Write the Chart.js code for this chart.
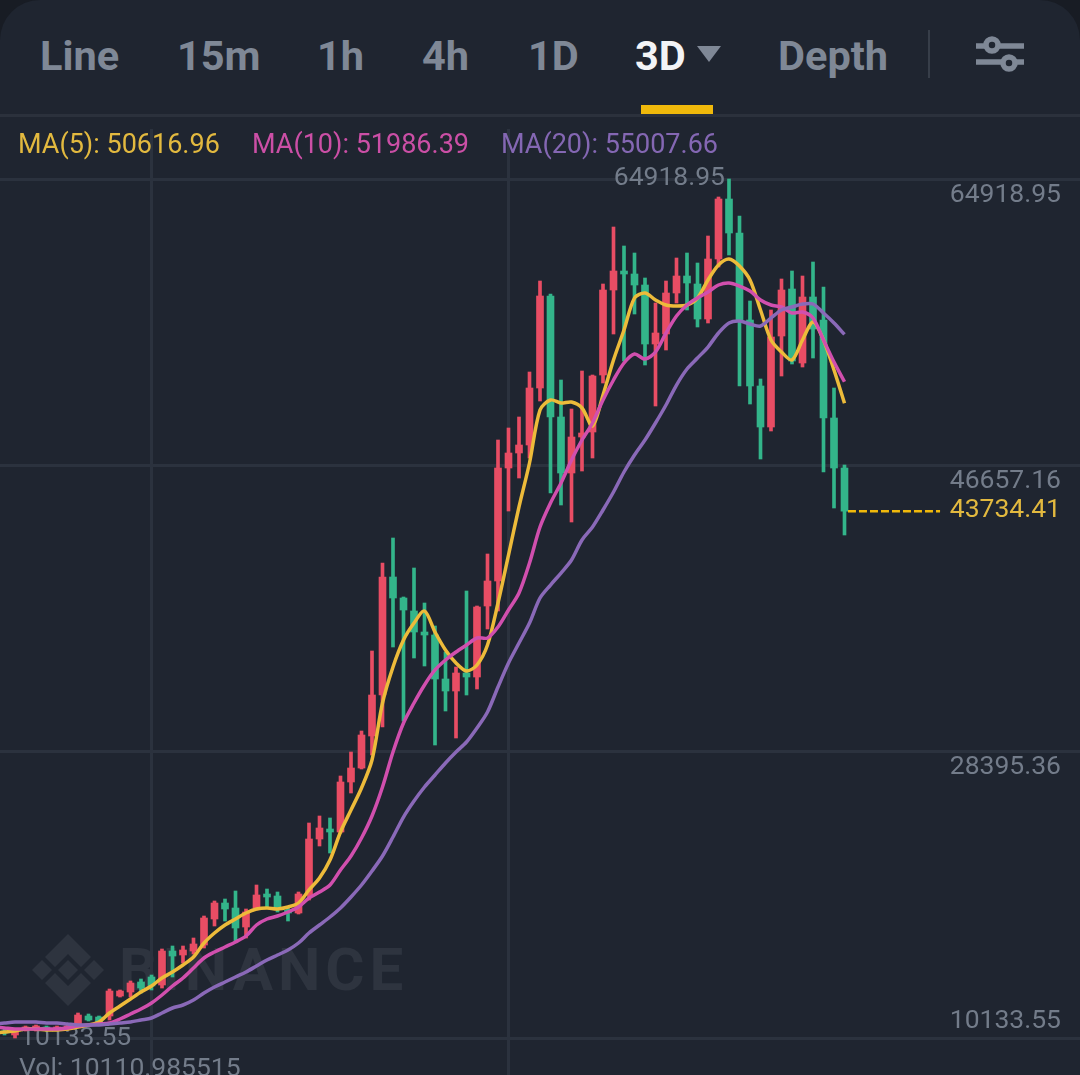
<!DOCTYPE html>
<html><head><meta charset="utf-8">
<script src="https://cdn.jsdelivr.net/npm/chart.js@4"></script>
<style>
html,body{margin:0;padding:0;background:#181c24;width:1080px;height:1075px;overflow:hidden;font-family:Roboto,sans-serif}
#app{position:absolute;left:0;top:0;width:1080px;height:1075px;background:#1f2530;border-radius:40px 40px 0 0;overflow:hidden}
.tab{position:absolute;top:31px;font-weight:700;font-size:41.5px;line-height:50px;color:#7f8896;white-space:nowrap}
.tab.on{color:#f3f4f6}
#rule{position:absolute;left:0;top:114px;width:1080px;height:3px;background:#2b313c}
#ul{position:absolute;left:641px;top:105px;width:72px;height:9px;background:#f0b90b}
#div{position:absolute;left:928px;top:30px;width:2px;height:48px;background:#373e49}
.ma{position:absolute;top:126px;font-size:27px;line-height:36px;white-space:nowrap}
#wm{position:absolute;left:119px;top:936px;font-size:60px;line-height:68px;font-weight:700;color:#2e343f;letter-spacing:5px;white-space:nowrap}
svg{position:absolute}
#wrap{position:absolute;left:0;top:129px;width:1080px;height:946px}
</style></head><body>
<div id="app">
<svg style="left:30px;top:932px" width="76" height="76" viewBox="0 0 76 76"><g fill="#2e343f">
<polygon points="38,2 61,25 51,35 38,22 25,35 15,25"/><polygon points="38,74 61,51 51,41 38,54 25,41 15,51"/>
<polygon points="38,28 48,38 38,48 28,38"/><polygon points="12,28 22,38 12,48 2,38"/><polygon points="64,28 74,38 64,48 54,38"/></g></svg>
<div id="wm">BINANCE</div>
<div class="tab" style="left:40px">Line</div>
<div class="tab" style="left:177px">15m</div>
<div class="tab" style="left:317px">1h</div>
<div class="tab" style="left:422px">4h</div>
<div class="tab" style="left:528px">1D</div>
<div class="tab on" style="left:635px">3D</div>
<svg style="left:696px;top:44px" width="26" height="20"><polygon points="1,2 25,2 13,18" fill="#7f8896"/></svg>
<div class="tab" style="left:778px">Depth</div>
<div id="div"></div>
<svg style="left:975px;top:36px" width="50" height="36" viewBox="0 0 50 36"><g stroke="#7f8896" stroke-width="5.5" fill="none"><line x1="1" y1="10" x2="49" y2="10"/><line x1="1" y1="26" x2="49" y2="26"/><circle cx="17" cy="9" r="6" fill="#1f2530"/><circle cx="34" cy="27" r="6" fill="#1f2530"/></g></svg>
<div id="ul"></div><div id="rule"></div>
<div id="wrap"><canvas id="c"></canvas></div>
<div class="ma" style="left:18px;color:#e2b93f">MA(5): 50616.96</div>
<div class="ma" style="left:252px;color:#cb4fa6">MA(10): 51986.39</div>
<div class="ma" style="left:501px;color:#8467b3">MA(20): 55007.66</div>
</div>
<script>
const opens=[10580,10580,10325,10644,10707,10835,10707,10771,10899,11537,11473,11537,12812,13067,13705,14024,13514,15682,15427,15682,16065,17723,18743,18425,17213,18425,19317,19190,18297,18106,19254,22825,23463,23272,26461,27353,29394,32009,39535,38196,37367,36027,35836,33030,32264,33412,33157,37686,39280,46487,47444,47954,51589,57457,49740,46168,48464,48783,52418,57839,59051,58860,58158,54395,55033,57648,58732,58222,55990,59816,63643,61475,55926,51717,49102,54906,57903,53184,57393,55926,49676,46487];
const highs=[10771,10771,10644,10899,10963,10899,10899,10963,11728,11664,11537,13259,13195,13769,13896,14151,15810,16001,16001,16511,17914,18871,18998,19509,18361,19891,19636,19445,18425,19445,23846,24292,24165,26843,28374,29713,34816,40428,42022,38260,40109,37877,36410,34752,33795,38642,37686,41002,48273,49038,49740,52610,58413,57584,52099,50250,52673,52418,58222,61857,60646,60199,58605,57010,58413,59880,60199,59561,61283,63771,64918.95,62559,57138,52163,56564,58541,59051,58732,59625,58031,51589,46678];
const lows=[10452,10325,10133.55,10580,10580,10580,10644,10644,10835,11218,10963,11281,12748,12748,13003,13195,13322,14024,14917,15491,15873,17277,17595,16256,16511,18297,18488,18170,17595,18042,18935,22379,21932,23208,25759,27290,28183,29968,35071,30351,34369,33859,28820,30989,29267,32009,32392,36219,37367,43744,45849,47125,50760,44892,44127,43043,46296,47125,51908,55033,53311,56309,53056,50441,54013,57010,56564,55480,55735,59306,60072,51717,50569,47061,48847,52354,53120,52928,53502,46232,43936,42214];
const closes=[10580,10452,10580,10835,10899,10707,10835,10899,11600,11281,11090,13131,13131,13641,13322,13450,15682,15363,15746,16129,17787,18743,18361,17149,18170,19254,19126,18488,18106,19317,22825,23527,23272,26461,27353,29458,32009,39535,38196,37430,36027,35836,33030,32264,33412,33157,37622,39280,46487,47444,47954,51589,57457,49740,46168,48464,48719,52354,57839,59051,58860,58158,54395,55097,57648,58732,58286,55990,59816,63643,61475,55926,51717,49102,54842,57839,53311,57393,55352,49676,46487,43734.41];
const ma5=[10452,10516,10580,10707,10707,10644,10644,10707,10835,10963,11154,11728,12174,12621,13067,13450,13960,14343,14789,15299,16192,16830,17340,17723,18106,18361,18425,18361,18488,18743,19573,20338,21486,23272,24675,26078,27864,31499,33795,35517,36601,37367,36027,34879,34050,33540,33923,35198,37877,40938,44000,46806,50186,50824,50632,50696,50314,49166,51143,53375,55288,57329,57648,57202,56883,56819,56883,57329,58477,59434,59816,59370,58477,56564,54650,53885,53375,54650,55798,54650,52737,50616.96];
const ma10=[10835,10771,10707,10707,10707,10707,10707,10771,10899,10963,11026,11090,11345,11664,11983,12366,12876,13450,13960,14598,15236,15618,15937,16256,16639,17340,17723,17914,18170,18488,19062,19445,19891,20848,21741,22889,24292,26142,28374,30224,31499,32647,33604,34242,34752,35198,35645,35645,36346,37430,38515,40428,42724,44255,45530,46997,48273,49357,50824,52099,53184,53758,53439,53885,55097,56181,56883,57329,57712,58158,58286,58094,57776,57202,56883,56755,56372,56436,56054,54650,53247,51986.39];
const ma20=[11026,11090,11154,11154,11154,11090,11090,11026,10963,10963,10963,11026,11090,11154,11281,11409,11728,12047,12238,12557,13003,13386,13705,14024,14343,14725,15108,15427,15746,16192,16830,17340,17851,18425,19126,19891,20784,21741,22953,24228,25249,26142,26907,27672,28374,29012,29905,30925,32520,34050,35326,36601,38196,39025,39790,40619,41895,42724,43808,44956,46232,47316,48273,49357,50505,51780,52801,53502,54204,55097,55735,55862,55671,55543,56054,56564,56755,56946,56946,56372,55735,55007.66];
const candleIndex=opens.map((_,i)=>i-1);
const gridValues=[64918.95,46657.16,28395.36,10133.55];
const lastPrice=43734.41;
const lastPriceSpan=[80.33,89.1];
const verticalGridAt=[14,48];
const highLabel='64918.95', lowLabel='10133.55', volLabel='Vol: 10110.985515';

const UP='#e84d64', DOWN='#33b58a', GRID='#2b323e';
const pos=opens.map((_,i)=>i);
const colors=pos.map(i=>closes[i]>opens[i]?UP:DOWN);
const line=(label,arr,color)=>({type:'line',label,data:pos.map(i=>({x:candleIndex[i],y:arr[i]})),borderColor:color,borderWidth:3.5,pointRadius:0,tension:0.3,fill:false});
const setTicks=(vals)=>(ax)=>{ax.ticks=vals.map(v=>({value:v}));};
const noWidth=(ax)=>{ax.width=0;ax.paddingTop=0;ax.paddingBottom=0;};
const sideAxis=(vals,offset,color,pad)=>({type:'linear',position:'right',min:7773.9,max:68107.85,afterBuildTicks:setTicks(vals),afterFit:noWidth,
  grid:{display:false},border:{display:false},
  ticks:{mirror:true,padding:pad,labelOffset:offset,color,font:{family:'Roboto',size:26.5},autoSkip:false,maxRotation:0,callback:v=>Number(v).toFixed(2)}});
const marks={id:'marks',beforeDatasetsDraw(ch){
  const c=ch.ctx,x=ch.scales.x,y=ch.scales.y;
  c.save();c.fillStyle='#737c8a';c.font='26.5px Roboto';c.textBaseline='middle';
  const hi=highs.indexOf(Math.max(...highs)),lo=lows.indexOf(Math.min(...lows));
  c.textAlign='right';c.fillText(highLabel,x.getPixelForValue(candleIndex[hi])-4,y.getPixelForValue(highs[hi])-1);
  c.textAlign='left';c.fillText(lowLabel,x.getPixelForValue(candleIndex[lo])+5,y.getPixelForValue(lows[lo]));
  c.fillText(volLabel,x.getPixelForValue(candleIndex[lo])+4,y.getPixelForValue(lows[lo])+31);
  c.restore();
}};
Chart.defaults.font.family='Roboto';
new Chart(document.getElementById('c'),{
  type:'bar',
  data:{datasets:[
    {label:'wick',grouped:false,barThickness:3,data:pos.map(i=>({x:candleIndex[i],y:[lows[i],highs[i]]})),backgroundColor:colors,borderWidth:0,borderSkipped:false,order:6},
    {label:'body',grouped:false,barThickness:7,data:pos.map(i=>({x:candleIndex[i],y:[opens[i],closes[i]]})),backgroundColor:colors,borderWidth:0,borderSkipped:false,order:5},
    {...line('MA(5)',ma5,'#edbb3a'),order:4},
    {...line('MA(10)',ma10,'#d14fae'),order:3},
    {...line('MA(20)',ma20,'#8a69b8'),order:2},
    {type:'line',label:'last',data:lastPriceSpan.map(x=>({x,y:lastPrice})),borderColor:'#f0b90b',borderWidth:2.5,borderDash:[8,3],pointRadius:0,order:1}
  ]},
  options:{responsive:true,maintainAspectRatio:false,animation:false,
    layout:{padding:0,autoPadding:false},
    plugins:{legend:{display:false},tooltip:{enabled:false}},
    scales:{
      x:{type:'linear',offset:false,min:-4.5/10.5,max:1075.5/10.5,afterBuildTicks:setTicks(verticalGridAt),
        afterFit:(ax)=>{ax.height=0;ax.paddingLeft=0;ax.paddingRight=0;},
        grid:{offset:false,color:GRID,lineWidth:3,drawTicks:false},border:{display:false},ticks:{display:false}},
      y:{...sideAxis(gridValues,16,'#737c8a',-19),grid:{color:GRID,lineWidth:3,drawTicks:false},
        ticks:{mirror:true,padding:-19,labelOffset:16,color:'#737c8a',font:{family:'Roboto',size:26.5},autoSkip:false,maxRotation:0,callback:v=>v===gridValues[3]?'':Number(v).toFixed(2)}},
      y2:sideAxis([gridValues[3]],-17,'#737c8a',-19),
      y3:sideAxis([lastPrice],-1,'#e2b93f',-19)
    }
  },
  plugins:[marks]
});
</script></body></html>
